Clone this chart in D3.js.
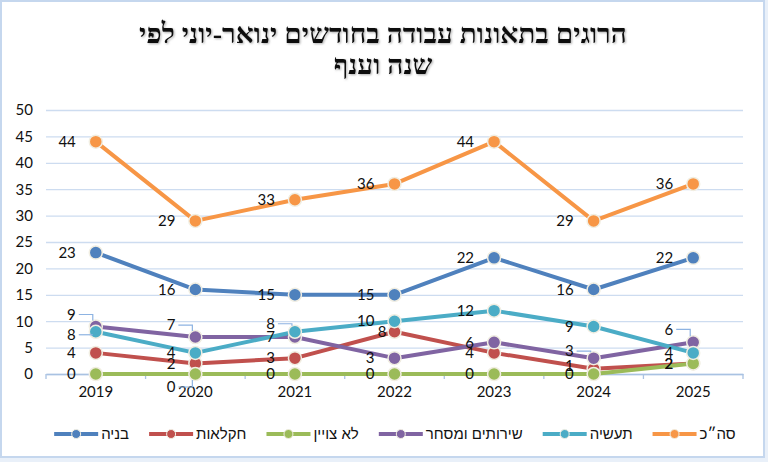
<!DOCTYPE html>
<html>
<head>
<meta charset="utf-8">
<script src="https://cdn.jsdelivr.net/npm/d3@7"></script>
<style>
  body { margin: 0; background: #fff; }
  svg { display: block; }
</style>
</head>
<body>
<svg id="chart" width="768" height="462"></svg>
<script>
// data
const years = ['2019', '2020', '2021', '2022', '2023', '2024', '2025']
const seriesNames = ['בניה', 'חקלאות', 'לא צויין', 'שירותים ומסחר', 'תעשיה', 'סה״כ']
const construction = [23, 16, 15, 15, 22, 16, 22]
const agriculture = [4, 2, 3, 8, 4, 1, 2]
const unspecified = [0, 0, 0, 0, 0, 0, 2]
const services = [9, 7, 7, 3, 6, 3, 6]
const industry = [8, 4, 8, 10, 12, 9, 4]
const total = [44, 29, 33, 36, 44, 29, 36]
const yTicks = [0, 5, 10, 15, 20, 25, 30, 35, 40, 45, 50]
const titleLines = ['הרוגים בתאונות עבודה בחודשים ינואר-יוני לפי', 'שנה וענף']

const seriesValues = [construction, agriculture, unspecified, services, industry, total]
const colors = ['#4f81bd', '#c0504d', '#9bbb59', '#8064a2', '#4bacc6', '#f79646']

// label tweaks: "series:index" -> [dx, dy, leader line?]
const labelNudge = {
  '3:0': [0, -12, true],
  '4:0': [0, 3, true],
  '3:1': [0, -12, true],
  '2:1': [0, 13, true],
  '4:2': [0, -8, true],
  '1:3': [12, 0, false],
  '3:5': [0, -7, true],
  '1:5': [0, -3, false],
  '3:6': [0, -13, true],
}

const svg = d3.select('#chart')
const W = 768, H = 462
const plotLeft = 46, plotRight = 743, plotTop = 110, plotBottom = 374

// soft shadow for the title
const shadow = svg.append('defs').append('filter')
  .attr('id', 'title-shadow')
  .attr('x', '-5%').attr('y', '-20%').attr('width', '110%').attr('height', '140%')
shadow.append('feDropShadow')
  .attr('dx', 1).attr('dy', 1).attr('stdDeviation', 0.8)
  .attr('flood-color', '#777').attr('flood-opacity', 0.6)

// frame
svg.append('rect')
  .attr('x', 0).attr('y', 0).attr('width', W).attr('height', H)
  .attr('fill', '#e9f0f9')
svg.append('rect')
  .attr('x', 1).attr('y', 1).attr('width', W - 5).attr('height', H - 6)
  .attr('fill', '#fff').attr('stroke', '#c5d7ee').attr('stroke-width', 2)

// title
svg.append('g')
  .attr('filter', 'url(#title-shadow)')
  .selectAll('text')
  .data(titleLines)
  .join('text')
  .attr('x', 383)
  .attr('y', (d, i) => 43 + i * 31)
  .attr('text-anchor', 'middle')
  .attr('direction', 'rtl')
  .style('font-family', '"Liberation Serif", serif')
  .style('font-weight', 'bold')
  .style('font-size', '28px')
  .attr('fill', '#111')
  .text(d => d)

const x = d3.scaleBand().domain(years).range([plotLeft, plotRight])
const y = d3.scaleLinear().domain([0, 50]).range([plotBottom, plotTop])
const bw = x.bandwidth()
const px = i => x(years[i]) + bw / 2

// gridlines + y labels
const yAxis = svg.append('g')
  .attr('transform', `translate(${plotLeft},0)`)
  .call(d3.axisLeft(y).tickValues(yTicks).tickSize(-(plotRight - plotLeft)).tickPadding(13))
yAxis.select('.domain').remove()
yAxis.selectAll('line').attr('stroke', '#cddcf0').attr('stroke-width', 1.3)
yAxis.selectAll('text')
  .style('font-family', 'Lato, sans-serif').style('font-size', '15px').attr('fill', '#111')

// x axis
const xAxis = svg.append('g')
  .attr('transform', `translate(0,${plotBottom})`)
  .call(d3.axisBottom(x).tickSize(0).tickPadding(12))
xAxis.select('.domain').attr('stroke', '#a9c2e2').attr('stroke-width', 1.3)
xAxis.selectAll('text')
  .style('font-family', 'Lato, sans-serif').style('font-size', '15px').attr('fill', '#111')
const bounds = years.map(d => x(d)).concat([plotRight])
xAxis.selectAll('line.bound')
  .data(bounds)
  .join('line')
  .attr('class', 'bound')
  .attr('x1', d => d).attr('x2', d => d)
  .attr('y1', 0).attr('y2', 5)
  .attr('stroke', '#a9c2e2').attr('stroke-width', 1.3)

// lines + markers
const line = d3.line()
  .x((d, i) => px(i))
  .y(d => y(d))

const plot = svg.append('g')
seriesValues.forEach((vals, s) => {
  const g = plot.append('g')
  g.append('path')
    .attr('d', line(vals))
    .attr('fill', 'none')
    .attr('stroke', colors[s])
    .attr('stroke-width', 4)
    .attr('stroke-linejoin', 'round')
  g.selectAll('circle')
    .data(vals)
    .join('circle')
    .attr('cx', (d, i) => px(i))
    .attr('cy', d => y(d))
    .attr('r', 6.5)
    .attr('fill', colors[s])
    .attr('stroke', '#f1eee2')
    .attr('stroke-width', 1.5)
})

// data labels, placed to the left of each point
const labels = svg.append('g')
seriesValues.forEach((vals, s) => {
  vals.forEach((v, i) => {
    const nudge = labelNudge[`${s}:${i}`] || [0, 0, false]
    const lx = px(i) - 20 + nudge[0]
    const ly = y(v) + nudge[1]
    labels.append('text')
      .attr('x', lx)
      .attr('y', ly)
      .attr('dy', '0.35em')
      .attr('text-anchor', 'end')
      .style('font-family', 'Lato, sans-serif')
      .style('font-size', '15px')
      .attr('fill', '#111')
      .text(v)
    if (nudge[2]) {
      const ex = px(i) - 3
      const ey = y(v) + (nudge[1] < 0 ? -6 : 6)
      labels.append('path')
        .attr('d', `M${lx + 3},${ly} H${ex} V${Math.abs(nudge[1]) > 4 ? ey : ly}`)
        .attr('fill', 'none')
        .attr('stroke', '#8db3e2')
        .attr('stroke-width', 1.2)
    }
  })
})

// legend: marker then text, laid out left to right
const legend = svg.append('g').attr('transform', 'translate(0,434)')
const items = legend.selectAll('g.item')
  .data(seriesNames)
  .join('g')
  .attr('class', 'item')
items.append('line')
  .attr('x1', 0).attr('x2', 44)
  .attr('stroke', (d, i) => colors[i])
  .attr('stroke-width', 4)
items.append('circle')
  .attr('cx', 22).attr('r', 4.5)
  .attr('fill', (d, i) => colors[i])
  .attr('stroke', '#f1eee2').attr('stroke-width', 1)
items.append('text')
  .attr('x', 47)
  .attr('dy', '0.35em')
  .style('font-family', '"Liberation Sans", sans-serif')
  .style('font-size', '15px')
  .attr('fill', '#111')
  .text(d => d)

let widths = []
items.each(function () {
  widths.push(this.getBBox().width)
})
const gap = 20
const totalW = d3.sum(widths) + gap * (widths.length - 1)
let cur = 395 - totalW / 2
items.attr('transform', (d, i) => {
  const tx = cur
  cur += widths[i] + gap
  return `translate(${tx},0)`
})
</script>
</body>
</html>
